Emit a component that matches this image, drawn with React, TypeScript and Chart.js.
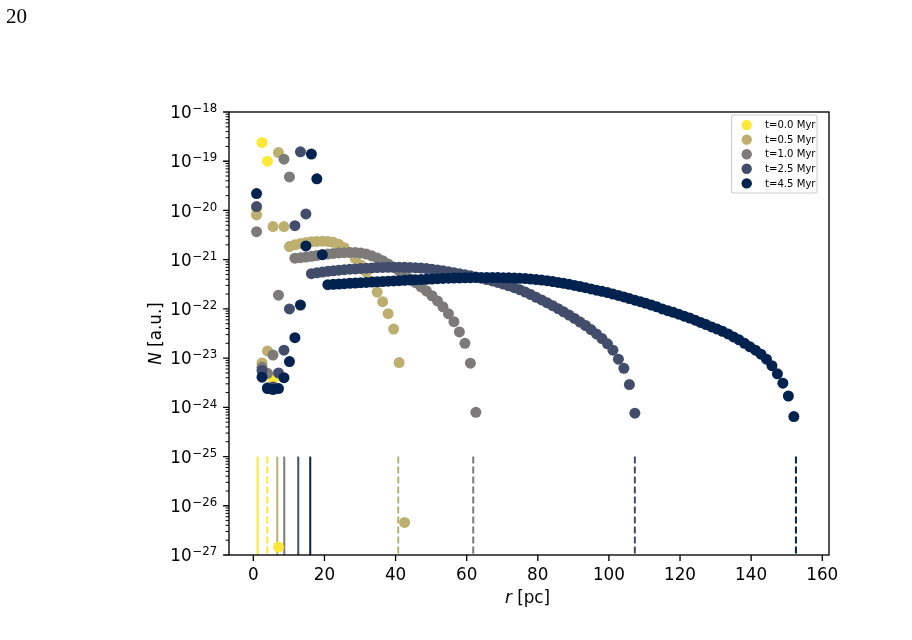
import React, { useEffect, useRef } from "react";
import { Chart, registerables } from "chart.js";

Chart.register(...registerables);

// Radial grid of the simulation output [pc]
const RADIUS_PC = [
  0.9, 2.44, 3.98, 5.53, 7.07, 8.61, 10.15, 11.69, 13.24, 14.78,
  16.32, 17.86, 19.4, 20.95, 22.49, 24.03, 25.57, 27.11, 28.66, 30.2,
  31.74, 33.28, 34.82, 36.37, 37.91, 39.45, 40.99, 42.53, 44.08, 45.62,
  47.16, 48.7, 50.24, 51.79, 53.33, 54.87, 56.41, 57.95, 59.5, 61.04,
  62.58, 64.12, 65.66, 67.21, 68.75, 70.29, 71.83, 73.37, 74.92, 76.46,
  78.0, 79.54, 81.08, 82.63, 84.17, 85.71, 87.25, 88.79, 90.34, 91.88,
  93.42, 94.96, 96.5, 98.05, 99.59, 101.13, 102.67, 104.21, 105.76, 107.3,
  108.84, 110.38, 111.92, 113.47, 115.01, 116.55, 118.09, 119.63, 121.18, 122.72,
  124.26, 125.8, 127.34, 128.89, 130.43, 131.97, 133.51, 135.05, 136.6, 138.14,
  139.68, 141.22, 142.76, 144.31, 145.85, 147.39, 148.93, 150.47, 152.02,
];

// N [a.u.] per time step (index = radial grid index)
const N_T00 = [1.1e-20, 2.4e-19, 1.0e-19, 3.7e-24, 1.45e-27];

const N_T05 = [
  8.1e-21, 8.0e-24, 1.4e-23, 4.7e-21, 1.5e-19, 4.7e-21, 1.85e-21, 2.0e-21, 2.12e-21, 2.22e-21,
  2.3e-21, 2.35e-21, 2.37e-21, 2.35e-21, 2.25e-21, 2.05e-21, 1.75e-21, 1.4e-21, 1.05e-21, 7.8e-22,
  5.6e-22, 3.6e-22, 2.2e-22, 1.4e-22, 8.0e-23, 3.9e-23, 8.1e-24, 4.6e-27,
];

const N_T10 = [
  3.7e-21, 6.5e-24, 4.9e-24, 1.15e-23, 1.9e-22, 1.1e-19, 4.8e-20, 1.07e-21, 1.1e-21, 1.13e-21,
  1.17e-21, 1.21e-21, 1.26e-21, 1.3e-21, 1.34e-21, 1.37e-21, 1.39e-21, 1.4e-21, 1.4e-21, 1.37e-21,
  1.3e-21, 1.2e-21, 1.08e-21, 9.5e-22, 8.2e-22, 7.0e-22, 5.9e-22, 4.9e-22, 4.1e-22, 3.4e-22,
  2.8e-22, 2.3e-22, 1.85e-22, 1.45e-22, 1.1e-22, 8.0e-23, 5.5e-23, 3.4e-23, 2.0e-23, 7.9e-24,
  7.9e-25,
];

const N_T25 = [
  1.2e-20, 5.6e-24, 2.5e-24, 2.6e-24, 5.0e-24, 1.45e-23, 1.0e-22, 4.9e-21, 1.55e-19, 8.5e-21,
  5.2e-22, 5.4e-22, 5.6e-22, 5.8e-22, 5.95e-22, 6.1e-22, 6.25e-22, 6.4e-22, 6.5e-22, 6.6e-22,
  6.7e-22, 6.8e-22, 6.9e-22, 6.95e-22, 7.0e-22, 7.05e-22, 7.05e-22, 7.0e-22, 6.95e-22, 6.85e-22,
  6.75e-22, 6.6e-22, 6.4e-22, 6.2e-22, 5.95e-22, 5.7e-22, 5.45e-22, 5.2e-22, 4.95e-22, 4.7e-22,
  4.45e-22, 4.2e-22, 3.95e-22, 3.7e-22, 3.45e-22, 3.2e-22, 2.95e-22, 2.7e-22, 2.45e-22, 2.2e-22,
  1.95e-22, 1.72e-22, 1.52e-22, 1.33e-22, 1.16e-22, 1.01e-22, 8.7e-23, 7.5e-23, 6.4e-23, 5.4e-23,
  4.6e-23, 3.8e-23, 3.1e-23, 2.5e-23, 1.95e-23, 1.45e-23, 9.5e-24, 6.2e-24, 2.9e-24, 7.6e-25,
];

const N_T45 = [
  2.2e-20, 4.1e-24, 2.4e-24, 2.3e-24, 2.4e-24, 4.0e-24, 8.5e-24, 2.6e-23, 1.2e-22, 1.9e-21,
  1.4e-19, 4.4e-20, 1.26e-21, 3.1e-22, 3.15e-22, 3.2e-22, 3.25e-22, 3.3e-22, 3.35e-22, 3.4e-22,
  3.45e-22, 3.5e-22, 3.55e-22, 3.6e-22, 3.65e-22, 3.7e-22, 3.75e-22, 3.8e-22, 3.85e-22, 3.9e-22,
  3.95e-22, 4.0e-22, 4.05e-22, 4.1e-22, 4.15e-22, 4.2e-22, 4.22e-22, 4.25e-22, 4.28e-22, 4.3e-22,
  4.32e-22, 4.33e-22, 4.34e-22, 4.34e-22, 4.33e-22, 4.3e-22, 4.27e-22, 4.23e-22, 4.18e-22, 4.12e-22,
  4.05e-22, 3.95e-22, 3.85e-22, 3.75e-22, 3.6e-22, 3.45e-22, 3.3e-22, 3.15e-22, 3.0e-22, 2.85e-22,
  2.7e-22, 2.55e-22, 2.4e-22, 2.28e-22, 2.15e-22, 2.0e-22, 1.88e-22, 1.75e-22, 1.62e-22, 1.5e-22,
  1.4e-22, 1.3e-22, 1.2e-22, 1.1e-22, 1.0e-22, 9.2e-23, 8.5e-23, 7.8e-23, 7.1e-23, 6.5e-23,
  5.9e-23, 5.3e-23, 4.8e-23, 4.3e-23, 3.9e-23, 3.5e-23, 3.1e-23, 2.7e-23, 2.35e-23, 2.0e-23,
  1.7e-23, 1.45e-23, 1.2e-23, 9.5e-24, 7.0e-24, 4.8e-24, 3.1e-24, 1.7e-24, 6.5e-25,
];

const SERIES_VALUES = [N_T00, N_T05, N_T10, N_T25, N_T45];
const SERIES_LABELS = ["t=0.0 Myr", "t=0.5 Myr", "t=1.0 Myr", "t=2.5 Myr", "t=4.5 Myr"];
const SERIES_COLORS = ["#fde737", "#bcaf6f", "#7c7b78", "#414d6b", "#00224e"];

// inner (solid) and outer (dashed) edges [pc]
const INNER_EDGE_PC = [1.21, 6.72, 8.69, 12.63, 16.0];
const OUTER_EDGE_PC = [3.91, 40.75, 61.84, 107.3, 152.6];
const EDGE_N_RANGE = [1e-27, 1e-25];

const X_TICKS = [0, 20, 40, 60, 80, 100, 120, 140, 160];
const Y_EXPONENTS = [-27, -26, -25, -24, -23, -22, -21, -20, -19, -18];
const MINOR_MULTIPLIERS = [2, 3, 4, 5, 6, 7, 8, 9];
const X_MIN = -6.85;
const X_MAX = 161.9;

const FONT = '"DejaVu Sans"';

const mplPlugin = {
  id: "mplAxes",
  afterDraw(chart: any) {
    const ctx = chart.ctx as CanvasRenderingContext2D;
    const { left, right, top, bottom } = chart.chartArea;
    const xs = chart.scales.x;
    const ys = chart.scales.y;
    ctx.save();
    ctx.strokeStyle = "#000";
    ctx.fillStyle = "#000";

    // x ticks
    ctx.lineWidth = 1.34;
    ctx.beginPath();
    for (const v of X_TICKS) {
      const px = xs.getPixelForValue(v);
      ctx.moveTo(px, bottom);
      ctx.lineTo(px, bottom + 5.9);
    }
    ctx.stroke();

    // y major ticks
    ctx.beginPath();
    for (const e of Y_EXPONENTS) {
      const py = ys.getPixelForValue(Math.pow(10, e));
      ctx.moveTo(left - 5.9, py);
      ctx.lineTo(left, py);
    }
    ctx.stroke();

    // y minor ticks
    ctx.lineWidth = 1.0;
    ctx.beginPath();
    for (const e of Y_EXPONENTS.slice(0, -1)) {
      for (const m of MINOR_MULTIPLIERS) {
        const py = ys.getPixelForValue(m * Math.pow(10, e));
        ctx.moveTo(left - 3.4, py);
        ctx.lineTo(left, py);
      }
    }
    ctx.stroke();

    // frame
    ctx.lineWidth = 1.34;
    ctx.strokeRect(left, top, right - left, bottom - top);

    // x tick labels
    ctx.font = `16.8px ${FONT}`;
    ctx.textAlign = "center";
    ctx.textBaseline = "alphabetic";
    for (const v of X_TICKS) {
      ctx.fillText(String(v), xs.getPixelForValue(v), bottom + 24.5);
    }

    // y tick labels 10^{-n}
    ctx.textAlign = "left";
    for (const e of Y_EXPONENTS) {
      const py = ys.getPixelForValue(Math.pow(10, e));
      const sup = "\u2212" + String(-e);
      ctx.font = `11.76px ${FONT}`;
      const sw = ctx.measureText(sup).width;
      ctx.font = `16.8px ${FONT}`;
      const bw = ctx.measureText("10").width;
      const xr = left - 11.8;
      ctx.fillText("10", xr - sw - bw - 0.8, py + 6.1);
      ctx.font = `11.76px ${FONT}`;
      ctx.fillText(sup, xr - sw, py + 0.2);
    }

    // x axis title: r [pc]
    ctx.font = `italic 16.8px ${FONT}`;
    const rw = ctx.measureText("r").width;
    ctx.font = `16.8px ${FONT}`;
    const pw = ctx.measureText(" [pc]").width;
    const cx = (left + right) / 2 - 1.5;
    const sx = cx - (rw + pw) / 2;
    ctx.font = `italic 16.8px ${FONT}`;
    ctx.fillText("r", sx, 603);
    ctx.font = `16.8px ${FONT}`;
    ctx.fillText(" [pc]", sx + rw, 603);

    // y axis title: N [a.u.]
    ctx.save();
    ctx.translate(160.5, (top + bottom) / 2);
    ctx.rotate(-Math.PI / 2);
    ctx.font = `italic 16.8px ${FONT}`;
    const nw = ctx.measureText("N").width;
    ctx.font = `16.8px ${FONT}`;
    const aw = ctx.measureText(" [a.u.]").width;
    const sy = -(nw + aw) / 2;
    ctx.font = `italic 16.8px ${FONT}`;
    ctx.fillText("N", sy, 0);
    ctx.font = `16.8px ${FONT}`;
    ctx.fillText(" [a.u.]", sy + nw, 0);
    ctx.restore();

    // legend
    const lx = 731.5, ly = 115, lw = 85.5, lh = 78;
    ctx.beginPath();
    (ctx as any).roundRect(lx, ly, lw, lh, 2.5);
    ctx.fillStyle = "rgba(255,255,255,0.8)";
    ctx.fill();
    ctx.strokeStyle = "#cccccc";
    ctx.lineWidth = 1.1;
    ctx.stroke();
    ctx.font = `10.1px ${FONT}`;
    ctx.textBaseline = "middle";
    ctx.textAlign = "left";
    SERIES_LABELS.forEach((lab, k) => {
      const yy = 125 + k * 14.6;
      ctx.beginPath();
      ctx.arc(746.7, yy, 5.2, 0, Math.PI * 2);
      ctx.fillStyle = SERIES_COLORS[k];
      ctx.fill();
      ctx.fillStyle = "#000";
      ctx.fillText(lab, 765, yy + 0.5);
    });

    ctx.restore();
  },
};

export default function App() {
  const ref = useRef<HTMLCanvasElement>(null);

  useEffect(() => {
    const canvas = ref.current;
    if (!canvas) return;

    const pointSets = SERIES_VALUES.map((vals, k) => ({
      label: SERIES_LABELS[k],
      data: vals.map((v, i) => ({ x: RADIUS_PC[i], y: v })),
      backgroundColor: SERIES_COLORS[k],
      borderWidth: 0,
      pointRadius: 5.5,
      pointHoverRadius: 5.5,
      showLine: false,
      order: 10 - k,
    }));

    const edgeSets: any[] = [];
    SERIES_COLORS.forEach((c, k) => {
      edgeSets.push({
        label: "inner " + SERIES_LABELS[k],
        data: [
          { x: INNER_EDGE_PC[k], y: EDGE_N_RANGE[0] },
          { x: INNER_EDGE_PC[k], y: EDGE_N_RANGE[1] },
        ],
        borderColor: c,
        borderWidth: 2,
        pointRadius: 0,
        showLine: true,
        order: 30 - k,
      });
      edgeSets.push({
        label: "outer " + SERIES_LABELS[k],
        data: [
          { x: OUTER_EDGE_PC[k], y: EDGE_N_RANGE[1] },
          { x: OUTER_EDGE_PC[k], y: EDGE_N_RANGE[0] },
        ],
        borderColor: c,
        borderWidth: 2,
        borderDash: [7, 3],
        pointRadius: 0,
        showLine: true,
        order: 30 - k,
      });
    });

    const chart = new Chart(canvas, {
      type: "scatter",
      data: { datasets: [...pointSets, ...edgeSets] as any },
      options: {
        animation: false,
        responsive: false,
        devicePixelRatio: 1,
        events: [],
        layout: { padding: { left: 0, right: 83, top: 112, bottom: 0 } },
        plugins: { legend: { display: false }, tooltip: { enabled: false } },
        scales: {
          x: {
            type: "linear",
            min: X_MIN,
            max: X_MAX,
            afterBuildTicks: (s: any) => {
              s.ticks = X_TICKS.map((v) => ({ value: v }));
            },
            afterFit: (s: any) => {
              s.height = 85;
            },
            ticks: { display: false },
            grid: { display: false, drawTicks: false },
            border: { display: false },
          },
          y: {
            type: "logarithmic",
            min: Math.pow(10, Y_EXPONENTS[0]),
            max: Math.pow(10, Y_EXPONENTS[Y_EXPONENTS.length - 1]),
            afterBuildTicks: (s: any) => {
              s.ticks = Y_EXPONENTS.map((e) => ({ value: Math.pow(10, e), major: true }));
            },
            afterFit: (s: any) => {
              s.width = 229;
            },
            ticks: { display: false },
            grid: { display: false, drawTicks: false },
            border: { display: false },
          },
        },
      } as any,
      plugins: [mplPlugin],
    });

    return () => chart.destroy();
  }, []);

  return (
    <div style={{ position: "absolute", left: 0, top: 0, width: 912, height: 640, background: "#fff" }}>
      <canvas
        ref={ref}
        width={912}
        height={640}
        style={{ position: "absolute", left: 0, top: 0, width: 912, height: 640 }}
      />
      <div
        style={{
          position: "absolute",
          left: 6,
          top: 5.6,
          fontFamily: '"Liberation Serif", serif',
          fontSize: 21,
          lineHeight: "21px",
          color: "#000",
        }}
      >
        20
      </div>
    </div>
  );
}
